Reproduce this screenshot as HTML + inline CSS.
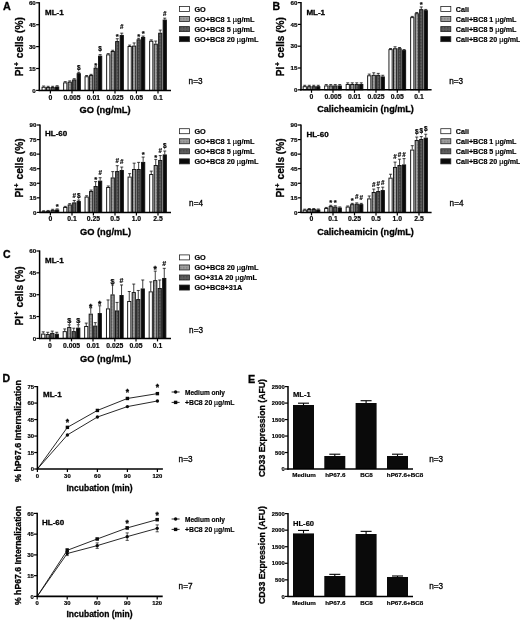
<!DOCTYPE html>
<html><head><meta charset="utf-8"><title>Figure</title>
<style>
html,body{margin:0;padding:0;background:#fff;}
body{width:520px;height:620px;overflow:hidden;font-family:"Liberation Sans",sans-serif;}
svg{display:block;filter:blur(0.4px);}
</style></head><body>
<svg width="520" height="620" viewBox="0 0 520 620" font-family="Liberation Sans, sans-serif">
<style>text[font-weight="bold"]{stroke:#000;stroke-width:0.18px;} text.big{stroke-width:0.3px;}</style>
<defs>
<pattern id="pl" width="1.5" height="1.5" patternUnits="userSpaceOnUse"><rect width="1.5" height="1.5" fill="#a0a0a0"/><rect width="0.75" height="0.75" fill="#7c7c7c"/></pattern>
<pattern id="pd" width="1.5" height="1.5" patternUnits="userSpaceOnUse"><rect width="1.5" height="1.5" fill="#606060"/><rect width="0.75" height="0.75" fill="#404040"/></pattern>
</defs>
<rect width="520" height="620" fill="#ffffff"/>
<line x1="43.65" y1="86.75" x2="43.65" y2="86.02" stroke="#111" stroke-width="0.8"/>
<line x1="42.15" y1="86.02" x2="45.15" y2="86.02" stroke="#111" stroke-width="0.8"/>
<rect x="42.05" y="87.25" width="3.20" height="3.15" fill="#ffffff" stroke="#111" stroke-width="0.95"/>
<line x1="48.15" y1="87.04" x2="48.15" y2="86.31" stroke="#111" stroke-width="0.8"/>
<line x1="46.65" y1="86.31" x2="49.65" y2="86.31" stroke="#111" stroke-width="0.8"/>
<rect x="46.55" y="87.54" width="3.20" height="2.86" fill="url(#pl)" stroke="#111" stroke-width="0.95"/>
<line x1="52.65" y1="87.04" x2="52.65" y2="86.31" stroke="#111" stroke-width="0.8"/>
<line x1="51.15" y1="86.31" x2="54.15" y2="86.31" stroke="#111" stroke-width="0.8"/>
<rect x="51.05" y="87.54" width="3.20" height="2.86" fill="url(#pd)" stroke="#111" stroke-width="0.95"/>
<line x1="57.15" y1="86.46" x2="57.15" y2="85.73" stroke="#111" stroke-width="0.8"/>
<line x1="55.65" y1="85.73" x2="58.65" y2="85.73" stroke="#111" stroke-width="0.8"/>
<rect x="55.55" y="86.96" width="3.20" height="3.44" fill="#0a0a0a" stroke="#111" stroke-width="0.95"/>
<line x1="65.25" y1="82.37" x2="65.25" y2="81.64" stroke="#111" stroke-width="0.8"/>
<line x1="63.75" y1="81.64" x2="66.75" y2="81.64" stroke="#111" stroke-width="0.8"/>
<rect x="63.65" y="82.87" width="3.20" height="7.53" fill="#ffffff" stroke="#111" stroke-width="0.95"/>
<line x1="69.75" y1="81.64" x2="69.75" y2="80.91" stroke="#111" stroke-width="0.8"/>
<line x1="68.25" y1="80.91" x2="71.25" y2="80.91" stroke="#111" stroke-width="0.8"/>
<rect x="68.15" y="82.14" width="3.20" height="8.26" fill="url(#pl)" stroke="#111" stroke-width="0.95"/>
<line x1="74.25" y1="79.45" x2="74.25" y2="78.72" stroke="#111" stroke-width="0.8"/>
<line x1="72.75" y1="78.72" x2="75.75" y2="78.72" stroke="#111" stroke-width="0.8"/>
<rect x="72.65" y="79.95" width="3.20" height="10.45" fill="url(#pd)" stroke="#111" stroke-width="0.95"/>
<line x1="78.75" y1="73.17" x2="78.75" y2="72.30" stroke="#111" stroke-width="0.8"/>
<line x1="77.25" y1="72.30" x2="80.25" y2="72.30" stroke="#111" stroke-width="0.8"/>
<rect x="77.15" y="73.67" width="3.20" height="16.73" fill="#0a0a0a" stroke="#111" stroke-width="0.95"/>
<line x1="86.65" y1="76.24" x2="86.65" y2="75.51" stroke="#111" stroke-width="0.8"/>
<line x1="85.15" y1="75.51" x2="88.15" y2="75.51" stroke="#111" stroke-width="0.8"/>
<rect x="85.05" y="76.74" width="3.20" height="13.66" fill="#ffffff" stroke="#111" stroke-width="0.95"/>
<line x1="91.15" y1="75.07" x2="91.15" y2="74.34" stroke="#111" stroke-width="0.8"/>
<line x1="89.65" y1="74.34" x2="92.65" y2="74.34" stroke="#111" stroke-width="0.8"/>
<rect x="89.55" y="75.57" width="3.20" height="14.83" fill="url(#pl)" stroke="#111" stroke-width="0.95"/>
<line x1="95.65" y1="67.77" x2="95.65" y2="66.89" stroke="#111" stroke-width="0.8"/>
<line x1="94.15" y1="66.89" x2="97.15" y2="66.89" stroke="#111" stroke-width="0.8"/>
<rect x="94.05" y="68.27" width="3.20" height="22.13" fill="url(#pd)" stroke="#111" stroke-width="0.95"/>
<line x1="100.15" y1="55.65" x2="100.15" y2="54.63" stroke="#111" stroke-width="0.8"/>
<line x1="98.65" y1="54.63" x2="101.65" y2="54.63" stroke="#111" stroke-width="0.8"/>
<rect x="98.55" y="56.15" width="3.20" height="34.25" fill="#0a0a0a" stroke="#111" stroke-width="0.95"/>
<line x1="108.25" y1="54.34" x2="108.25" y2="53.61" stroke="#111" stroke-width="0.8"/>
<line x1="106.75" y1="53.61" x2="109.75" y2="53.61" stroke="#111" stroke-width="0.8"/>
<rect x="106.65" y="54.84" width="3.20" height="35.56" fill="#ffffff" stroke="#111" stroke-width="0.95"/>
<line x1="112.75" y1="50.98" x2="112.75" y2="50.25" stroke="#111" stroke-width="0.8"/>
<line x1="111.25" y1="50.25" x2="114.25" y2="50.25" stroke="#111" stroke-width="0.8"/>
<rect x="111.15" y="51.48" width="3.20" height="38.92" fill="url(#pl)" stroke="#111" stroke-width="0.95"/>
<line x1="117.25" y1="41.05" x2="117.25" y2="38.72" stroke="#111" stroke-width="0.8"/>
<line x1="115.75" y1="38.72" x2="118.75" y2="38.72" stroke="#111" stroke-width="0.8"/>
<rect x="115.65" y="41.55" width="3.20" height="48.85" fill="url(#pd)" stroke="#111" stroke-width="0.95"/>
<line x1="121.75" y1="34.92" x2="121.75" y2="33.17" stroke="#111" stroke-width="0.8"/>
<line x1="120.25" y1="33.17" x2="123.25" y2="33.17" stroke="#111" stroke-width="0.8"/>
<rect x="120.15" y="35.42" width="3.20" height="54.98" fill="#0a0a0a" stroke="#111" stroke-width="0.95"/>
<line x1="129.65" y1="46.02" x2="129.65" y2="45.14" stroke="#111" stroke-width="0.8"/>
<line x1="128.15" y1="45.14" x2="131.15" y2="45.14" stroke="#111" stroke-width="0.8"/>
<rect x="128.05" y="46.52" width="3.20" height="43.88" fill="#ffffff" stroke="#111" stroke-width="0.95"/>
<line x1="134.15" y1="45.58" x2="134.15" y2="42.95" stroke="#111" stroke-width="0.8"/>
<line x1="132.65" y1="42.95" x2="135.65" y2="42.95" stroke="#111" stroke-width="0.8"/>
<rect x="132.55" y="46.08" width="3.20" height="44.32" fill="url(#pl)" stroke="#111" stroke-width="0.95"/>
<line x1="138.65" y1="39.30" x2="138.65" y2="38.28" stroke="#111" stroke-width="0.8"/>
<line x1="137.15" y1="38.28" x2="140.15" y2="38.28" stroke="#111" stroke-width="0.8"/>
<rect x="137.05" y="39.80" width="3.20" height="50.60" fill="url(#pd)" stroke="#111" stroke-width="0.95"/>
<line x1="143.15" y1="36.96" x2="143.15" y2="36.09" stroke="#111" stroke-width="0.8"/>
<line x1="141.65" y1="36.09" x2="144.65" y2="36.09" stroke="#111" stroke-width="0.8"/>
<rect x="141.55" y="37.46" width="3.20" height="52.94" fill="#0a0a0a" stroke="#111" stroke-width="0.95"/>
<line x1="151.25" y1="40.76" x2="151.25" y2="39.88" stroke="#111" stroke-width="0.8"/>
<line x1="149.75" y1="39.88" x2="152.75" y2="39.88" stroke="#111" stroke-width="0.8"/>
<rect x="149.65" y="41.26" width="3.20" height="49.14" fill="#ffffff" stroke="#111" stroke-width="0.95"/>
<line x1="155.75" y1="43.68" x2="155.75" y2="41.05" stroke="#111" stroke-width="0.8"/>
<line x1="154.25" y1="41.05" x2="157.25" y2="41.05" stroke="#111" stroke-width="0.8"/>
<rect x="154.15" y="44.18" width="3.20" height="46.22" fill="url(#pl)" stroke="#111" stroke-width="0.95"/>
<line x1="160.25" y1="32.73" x2="160.25" y2="30.10" stroke="#111" stroke-width="0.8"/>
<line x1="158.75" y1="30.10" x2="161.75" y2="30.10" stroke="#111" stroke-width="0.8"/>
<rect x="158.65" y="33.23" width="3.20" height="57.17" fill="url(#pd)" stroke="#111" stroke-width="0.95"/>
<line x1="164.75" y1="19.59" x2="164.75" y2="18.13" stroke="#111" stroke-width="0.8"/>
<line x1="163.25" y1="18.13" x2="166.25" y2="18.13" stroke="#111" stroke-width="0.8"/>
<rect x="163.15" y="20.09" width="3.20" height="70.31" fill="#0a0a0a" stroke="#111" stroke-width="0.95"/>
<line x1="39.30" y1="2.20" x2="39.30" y2="91.10" stroke="#000" stroke-width="1.5"/>
<line x1="38.60" y1="90.40" x2="171.00" y2="90.40" stroke="#000" stroke-width="1.5"/>
<line x1="36.10" y1="90.40" x2="39.30" y2="90.40" stroke="#000" stroke-width="1.2"/>
<text x="35.80" y="92.65" font-size="6.2" font-weight="bold" text-anchor="end" fill="#000">0</text>
<line x1="36.10" y1="68.50" x2="39.30" y2="68.50" stroke="#000" stroke-width="1.2"/>
<text x="35.80" y="70.75" font-size="6.2" font-weight="bold" text-anchor="end" fill="#000">15</text>
<line x1="36.10" y1="46.60" x2="39.30" y2="46.60" stroke="#000" stroke-width="1.2"/>
<text x="35.80" y="48.85" font-size="6.2" font-weight="bold" text-anchor="end" fill="#000">30</text>
<line x1="36.10" y1="24.70" x2="39.30" y2="24.70" stroke="#000" stroke-width="1.2"/>
<text x="35.80" y="26.95" font-size="6.2" font-weight="bold" text-anchor="end" fill="#000">45</text>
<line x1="36.10" y1="2.80" x2="39.30" y2="2.80" stroke="#000" stroke-width="1.2"/>
<text x="35.80" y="5.05" font-size="6.2" font-weight="bold" text-anchor="end" fill="#000">60</text>
<line x1="50.40" y1="90.40" x2="50.40" y2="93.40" stroke="#000" stroke-width="1.2"/>
<text x="50.40" y="99.70" font-size="6.8" font-weight="bold" text-anchor="middle" fill="#000">0</text>
<line x1="72.00" y1="90.40" x2="72.00" y2="93.40" stroke="#000" stroke-width="1.2"/>
<text x="72.00" y="99.70" font-size="6.8" font-weight="bold" text-anchor="middle" fill="#000">0.005</text>
<line x1="93.40" y1="90.40" x2="93.40" y2="93.40" stroke="#000" stroke-width="1.2"/>
<text x="93.40" y="99.70" font-size="6.8" font-weight="bold" text-anchor="middle" fill="#000">0.01</text>
<line x1="115.00" y1="90.40" x2="115.00" y2="93.40" stroke="#000" stroke-width="1.2"/>
<text x="115.00" y="99.70" font-size="6.8" font-weight="bold" text-anchor="middle" fill="#000">0.025</text>
<line x1="136.40" y1="90.40" x2="136.40" y2="93.40" stroke="#000" stroke-width="1.2"/>
<text x="136.40" y="99.70" font-size="6.8" font-weight="bold" text-anchor="middle" fill="#000">0.05</text>
<line x1="158.00" y1="90.40" x2="158.00" y2="93.40" stroke="#000" stroke-width="1.2"/>
<text x="158.00" y="99.70" font-size="6.8" font-weight="bold" text-anchor="middle" fill="#000">0.1</text>
<text class="big" x="105.00" y="113.00" font-size="9.3" font-weight="bold" text-anchor="middle" fill="#000">GO (ng/mL)</text>
<text class="big" x="22.7" y="46.8" font-size="10.1" font-weight="bold" text-anchor="middle" fill="#000" transform="rotate(-90 22.7 46.8)">PI<tspan font-size="6.5" dy="-4" dx="0.7">+</tspan><tspan dy="4" dx="1.3"> cells (%)</tspan></text>
<text class="big" x="45.00" y="14.70" font-size="8.0" font-weight="bold" text-anchor="start" fill="#000">ML-1</text>
<text x="78.75" y="70.21" font-size="6.5" font-weight="bold" text-anchor="middle" fill="#000">$</text>
<text x="95.65" y="67.86" font-size="7.6" font-weight="bold" text-anchor="middle" fill="#000">*</text>
<text x="100.15" y="50.81" font-size="6.5" font-weight="bold" text-anchor="middle" fill="#000">$</text>
<text x="117.25" y="38.66" font-size="7.6" font-weight="bold" text-anchor="middle" fill="#000">*</text>
<text x="121.75" y="29.27" font-size="6.3" font-weight="bold" text-anchor="middle" fill="#000">#</text>
<text x="138.65" y="39.26" font-size="7.6" font-weight="bold" text-anchor="middle" fill="#000">*</text>
<text x="143.15" y="36.26" font-size="7.6" font-weight="bold" text-anchor="middle" fill="#000">*</text>
<text x="164.75" y="16.27" font-size="6.3" font-weight="bold" text-anchor="middle" fill="#000">#</text>
<rect x="179.40" y="6.50" width="10.00" height="5.00" fill="#ffffff" stroke="#222" stroke-width="0.8"/>
<text x="194.40" y="11.50" font-size="7.3" font-weight="bold" fill="#000">GO</text>
<rect x="179.40" y="16.55" width="10.00" height="5.00" fill="url(#pl)" stroke="#222" stroke-width="0.8"/>
<text x="194.40" y="21.55" font-size="7.3" font-weight="bold" fill="#000">GO+BC8 1 <tspan font-weight="normal">&#181;</tspan>g/mL</text>
<rect x="179.40" y="26.60" width="10.00" height="5.00" fill="url(#pd)" stroke="#222" stroke-width="0.8"/>
<text x="194.40" y="31.60" font-size="7.3" font-weight="bold" fill="#000">GO+BC8 5 <tspan font-weight="normal">&#181;</tspan>g/mL</text>
<rect x="179.40" y="36.65" width="10.00" height="5.00" fill="#0a0a0a" stroke="#222" stroke-width="0.8"/>
<text x="194.40" y="41.65" font-size="7.3" font-weight="bold" fill="#000">GO+BC8 20 <tspan font-weight="normal">&#181;</tspan>g/mL</text>
<text class="big" x="188.60" y="84.20" font-size="8.2"  text-anchor="start" fill="#000" stroke="#000" stroke-width="0.15">n=3</text>
<line x1="43.65" y1="211.14" x2="43.65" y2="210.75" stroke="#111" stroke-width="0.8"/>
<line x1="42.15" y1="210.75" x2="45.15" y2="210.75" stroke="#111" stroke-width="0.8"/>
<rect x="42.05" y="211.64" width="3.20" height="0.76" fill="#ffffff" stroke="#111" stroke-width="0.95"/>
<line x1="48.15" y1="210.85" x2="48.15" y2="210.46" stroke="#111" stroke-width="0.8"/>
<line x1="46.65" y1="210.46" x2="49.65" y2="210.46" stroke="#111" stroke-width="0.8"/>
<rect x="46.55" y="211.35" width="3.20" height="1.05" fill="url(#pl)" stroke="#111" stroke-width="0.95"/>
<line x1="52.65" y1="209.88" x2="52.65" y2="209.29" stroke="#111" stroke-width="0.8"/>
<line x1="51.15" y1="209.29" x2="54.15" y2="209.29" stroke="#111" stroke-width="0.8"/>
<rect x="51.05" y="210.38" width="3.20" height="2.02" fill="url(#pd)" stroke="#111" stroke-width="0.95"/>
<line x1="57.15" y1="209.49" x2="57.15" y2="208.90" stroke="#111" stroke-width="0.8"/>
<line x1="55.65" y1="208.90" x2="58.65" y2="208.90" stroke="#111" stroke-width="0.8"/>
<rect x="55.55" y="209.99" width="3.20" height="2.41" fill="#0a0a0a" stroke="#111" stroke-width="0.95"/>
<line x1="65.25" y1="206.96" x2="65.25" y2="206.38" stroke="#111" stroke-width="0.8"/>
<line x1="63.75" y1="206.38" x2="66.75" y2="206.38" stroke="#111" stroke-width="0.8"/>
<rect x="63.65" y="207.46" width="3.20" height="4.94" fill="#ffffff" stroke="#111" stroke-width="0.95"/>
<line x1="69.75" y1="204.44" x2="69.75" y2="203.66" stroke="#111" stroke-width="0.8"/>
<line x1="68.25" y1="203.66" x2="71.25" y2="203.66" stroke="#111" stroke-width="0.8"/>
<rect x="68.15" y="204.94" width="3.20" height="7.46" fill="url(#pl)" stroke="#111" stroke-width="0.95"/>
<line x1="74.25" y1="202.40" x2="74.25" y2="200.46" stroke="#111" stroke-width="0.8"/>
<line x1="72.75" y1="200.46" x2="75.75" y2="200.46" stroke="#111" stroke-width="0.8"/>
<rect x="72.65" y="202.90" width="3.20" height="9.50" fill="url(#pd)" stroke="#111" stroke-width="0.95"/>
<line x1="78.75" y1="201.04" x2="78.75" y2="200.07" stroke="#111" stroke-width="0.8"/>
<line x1="77.25" y1="200.07" x2="80.25" y2="200.07" stroke="#111" stroke-width="0.8"/>
<rect x="77.15" y="201.54" width="3.20" height="10.86" fill="#0a0a0a" stroke="#111" stroke-width="0.95"/>
<line x1="86.65" y1="196.57" x2="86.65" y2="195.79" stroke="#111" stroke-width="0.8"/>
<line x1="85.15" y1="195.79" x2="88.15" y2="195.79" stroke="#111" stroke-width="0.8"/>
<rect x="85.05" y="197.07" width="3.20" height="15.33" fill="#ffffff" stroke="#111" stroke-width="0.95"/>
<line x1="91.15" y1="191.04" x2="91.15" y2="190.06" stroke="#111" stroke-width="0.8"/>
<line x1="89.65" y1="190.06" x2="92.65" y2="190.06" stroke="#111" stroke-width="0.8"/>
<rect x="89.55" y="191.54" width="3.20" height="20.86" fill="url(#pl)" stroke="#111" stroke-width="0.95"/>
<line x1="95.65" y1="185.99" x2="95.65" y2="181.62" stroke="#111" stroke-width="0.8"/>
<line x1="94.15" y1="181.62" x2="97.15" y2="181.62" stroke="#111" stroke-width="0.8"/>
<rect x="94.05" y="186.49" width="3.20" height="25.91" fill="url(#pd)" stroke="#111" stroke-width="0.95"/>
<line x1="100.15" y1="180.64" x2="100.15" y2="177.73" stroke="#111" stroke-width="0.8"/>
<line x1="98.65" y1="177.73" x2="101.65" y2="177.73" stroke="#111" stroke-width="0.8"/>
<rect x="98.55" y="181.14" width="3.20" height="31.26" fill="#0a0a0a" stroke="#111" stroke-width="0.95"/>
<line x1="108.25" y1="186.96" x2="108.25" y2="185.99" stroke="#111" stroke-width="0.8"/>
<line x1="106.75" y1="185.99" x2="109.75" y2="185.99" stroke="#111" stroke-width="0.8"/>
<rect x="106.65" y="187.46" width="3.20" height="24.94" fill="#ffffff" stroke="#111" stroke-width="0.95"/>
<line x1="112.75" y1="177.44" x2="112.75" y2="171.61" stroke="#111" stroke-width="0.8"/>
<line x1="111.25" y1="171.61" x2="114.25" y2="171.61" stroke="#111" stroke-width="0.8"/>
<rect x="111.15" y="177.94" width="3.20" height="34.46" fill="url(#pl)" stroke="#111" stroke-width="0.95"/>
<line x1="117.25" y1="171.03" x2="117.25" y2="165.69" stroke="#111" stroke-width="0.8"/>
<line x1="115.75" y1="165.69" x2="118.75" y2="165.69" stroke="#111" stroke-width="0.8"/>
<rect x="115.65" y="171.53" width="3.20" height="40.87" fill="url(#pd)" stroke="#111" stroke-width="0.95"/>
<line x1="121.75" y1="169.96" x2="121.75" y2="167.05" stroke="#111" stroke-width="0.8"/>
<line x1="120.25" y1="167.05" x2="123.25" y2="167.05" stroke="#111" stroke-width="0.8"/>
<rect x="120.15" y="170.46" width="3.20" height="41.94" fill="#0a0a0a" stroke="#111" stroke-width="0.95"/>
<line x1="129.65" y1="176.57" x2="129.65" y2="173.65" stroke="#111" stroke-width="0.8"/>
<line x1="128.15" y1="173.65" x2="131.15" y2="173.65" stroke="#111" stroke-width="0.8"/>
<rect x="128.05" y="177.07" width="3.20" height="35.33" fill="#ffffff" stroke="#111" stroke-width="0.95"/>
<line x1="134.15" y1="168.99" x2="134.15" y2="163.16" stroke="#111" stroke-width="0.8"/>
<line x1="132.65" y1="163.16" x2="135.65" y2="163.16" stroke="#111" stroke-width="0.8"/>
<rect x="132.55" y="169.49" width="3.20" height="42.91" fill="url(#pl)" stroke="#111" stroke-width="0.95"/>
<line x1="138.65" y1="168.99" x2="138.65" y2="162.39" stroke="#111" stroke-width="0.8"/>
<line x1="137.15" y1="162.39" x2="140.15" y2="162.39" stroke="#111" stroke-width="0.8"/>
<rect x="137.05" y="169.49" width="3.20" height="42.91" fill="url(#pd)" stroke="#111" stroke-width="0.95"/>
<line x1="143.15" y1="161.90" x2="143.15" y2="157.05" stroke="#111" stroke-width="0.8"/>
<line x1="141.65" y1="157.05" x2="144.65" y2="157.05" stroke="#111" stroke-width="0.8"/>
<rect x="141.55" y="162.40" width="3.20" height="50.00" fill="#0a0a0a" stroke="#111" stroke-width="0.95"/>
<line x1="151.25" y1="174.04" x2="151.25" y2="171.13" stroke="#111" stroke-width="0.8"/>
<line x1="149.75" y1="171.13" x2="152.75" y2="171.13" stroke="#111" stroke-width="0.8"/>
<rect x="149.65" y="174.54" width="3.20" height="37.86" fill="#ffffff" stroke="#111" stroke-width="0.95"/>
<line x1="155.75" y1="165.01" x2="155.75" y2="159.38" stroke="#111" stroke-width="0.8"/>
<line x1="154.25" y1="159.38" x2="157.25" y2="159.38" stroke="#111" stroke-width="0.8"/>
<rect x="154.15" y="165.51" width="3.20" height="46.89" fill="url(#pl)" stroke="#111" stroke-width="0.95"/>
<line x1="160.25" y1="159.96" x2="160.25" y2="155.59" stroke="#111" stroke-width="0.8"/>
<line x1="158.75" y1="155.59" x2="161.75" y2="155.59" stroke="#111" stroke-width="0.8"/>
<rect x="158.65" y="160.46" width="3.20" height="51.94" fill="url(#pd)" stroke="#111" stroke-width="0.95"/>
<line x1="164.75" y1="154.42" x2="164.75" y2="151.03" stroke="#111" stroke-width="0.8"/>
<line x1="163.25" y1="151.03" x2="166.25" y2="151.03" stroke="#111" stroke-width="0.8"/>
<rect x="163.15" y="154.92" width="3.20" height="57.48" fill="#0a0a0a" stroke="#111" stroke-width="0.95"/>
<line x1="40.00" y1="124.40" x2="40.00" y2="213.10" stroke="#000" stroke-width="1.5"/>
<line x1="39.30" y1="212.40" x2="171.00" y2="212.40" stroke="#000" stroke-width="1.5"/>
<line x1="36.80" y1="212.40" x2="40.00" y2="212.40" stroke="#000" stroke-width="1.2"/>
<text x="36.50" y="214.65" font-size="6.2" font-weight="bold" text-anchor="end" fill="#000">0</text>
<line x1="36.80" y1="197.83" x2="40.00" y2="197.83" stroke="#000" stroke-width="1.2"/>
<text x="36.50" y="200.08" font-size="6.2" font-weight="bold" text-anchor="end" fill="#000">15</text>
<line x1="36.80" y1="183.27" x2="40.00" y2="183.27" stroke="#000" stroke-width="1.2"/>
<text x="36.50" y="185.52" font-size="6.2" font-weight="bold" text-anchor="end" fill="#000">30</text>
<line x1="36.80" y1="168.70" x2="40.00" y2="168.70" stroke="#000" stroke-width="1.2"/>
<text x="36.50" y="170.95" font-size="6.2" font-weight="bold" text-anchor="end" fill="#000">45</text>
<line x1="36.80" y1="154.13" x2="40.00" y2="154.13" stroke="#000" stroke-width="1.2"/>
<text x="36.50" y="156.38" font-size="6.2" font-weight="bold" text-anchor="end" fill="#000">60</text>
<line x1="36.80" y1="139.57" x2="40.00" y2="139.57" stroke="#000" stroke-width="1.2"/>
<text x="36.50" y="141.82" font-size="6.2" font-weight="bold" text-anchor="end" fill="#000">75</text>
<line x1="36.80" y1="125.00" x2="40.00" y2="125.00" stroke="#000" stroke-width="1.2"/>
<text x="36.50" y="127.25" font-size="6.2" font-weight="bold" text-anchor="end" fill="#000">90</text>
<line x1="50.40" y1="212.40" x2="50.40" y2="215.40" stroke="#000" stroke-width="1.2"/>
<text x="50.40" y="221.40" font-size="6.8" font-weight="bold" text-anchor="middle" fill="#000">0</text>
<line x1="72.00" y1="212.40" x2="72.00" y2="215.40" stroke="#000" stroke-width="1.2"/>
<text x="72.00" y="221.40" font-size="6.8" font-weight="bold" text-anchor="middle" fill="#000">0.1</text>
<line x1="93.40" y1="212.40" x2="93.40" y2="215.40" stroke="#000" stroke-width="1.2"/>
<text x="93.40" y="221.40" font-size="6.8" font-weight="bold" text-anchor="middle" fill="#000">0.25</text>
<line x1="115.00" y1="212.40" x2="115.00" y2="215.40" stroke="#000" stroke-width="1.2"/>
<text x="115.00" y="221.40" font-size="6.8" font-weight="bold" text-anchor="middle" fill="#000">0.5</text>
<line x1="136.40" y1="212.40" x2="136.40" y2="215.40" stroke="#000" stroke-width="1.2"/>
<text x="136.40" y="221.40" font-size="6.8" font-weight="bold" text-anchor="middle" fill="#000">1.0</text>
<line x1="158.00" y1="212.40" x2="158.00" y2="215.40" stroke="#000" stroke-width="1.2"/>
<text x="158.00" y="221.40" font-size="6.8" font-weight="bold" text-anchor="middle" fill="#000">2.5</text>
<text class="big" x="105.50" y="235.30" font-size="9.3" font-weight="bold" text-anchor="middle" fill="#000">GO (ng/mL)</text>
<text class="big" x="23.4" y="168" font-size="10.1" font-weight="bold" text-anchor="middle" fill="#000" transform="rotate(-90 23.4 168)">PI<tspan font-size="6.5" dy="-4" dx="0.7">+</tspan><tspan dy="4" dx="1.3"> cells (%)</tspan></text>
<text class="big" x="45.00" y="136.40" font-size="8.0" font-weight="bold" text-anchor="start" fill="#000">HL-60</text>
<text x="57.15" y="209.26" font-size="7.6" font-weight="bold" text-anchor="middle" fill="#000">*</text>
<text x="74.25" y="198.27" font-size="6.3" font-weight="bold" text-anchor="middle" fill="#000">#</text>
<text x="78.75" y="197.81" font-size="6.5" font-weight="bold" text-anchor="middle" fill="#000">$</text>
<text x="95.65" y="182.26" font-size="7.6" font-weight="bold" text-anchor="middle" fill="#000">*</text>
<text x="100.15" y="175.27" font-size="6.3" font-weight="bold" text-anchor="middle" fill="#000">#</text>
<text x="117.25" y="163.27" font-size="6.3" font-weight="bold" text-anchor="middle" fill="#000">#</text>
<text x="121.75" y="163.87" font-size="6.3" font-weight="bold" text-anchor="middle" fill="#000">#</text>
<text x="143.15" y="157.26" font-size="7.6" font-weight="bold" text-anchor="middle" fill="#000">*</text>
<text x="155.75" y="159.86" font-size="7.6" font-weight="bold" text-anchor="middle" fill="#000">*</text>
<text x="160.25" y="153.27" font-size="6.3" font-weight="bold" text-anchor="middle" fill="#000">#</text>
<text x="164.75" y="148.21" font-size="6.5" font-weight="bold" text-anchor="middle" fill="#000">$</text>
<rect x="179.40" y="128.70" width="10.00" height="5.00" fill="#ffffff" stroke="#222" stroke-width="0.8"/>
<text x="194.40" y="133.70" font-size="7.3" font-weight="bold" fill="#000">GO</text>
<rect x="179.40" y="138.75" width="10.00" height="5.00" fill="url(#pl)" stroke="#222" stroke-width="0.8"/>
<text x="194.40" y="143.75" font-size="7.3" font-weight="bold" fill="#000">GO+BC8 1 <tspan font-weight="normal">&#181;</tspan>g/mL</text>
<rect x="179.40" y="148.80" width="10.00" height="5.00" fill="url(#pd)" stroke="#222" stroke-width="0.8"/>
<text x="194.40" y="153.80" font-size="7.3" font-weight="bold" fill="#000">GO+BC8 5 <tspan font-weight="normal">&#181;</tspan>g/mL</text>
<rect x="179.40" y="158.85" width="10.00" height="5.00" fill="#0a0a0a" stroke="#222" stroke-width="0.8"/>
<text x="194.40" y="163.85" font-size="7.3" font-weight="bold" fill="#000">GO+BC8 20 <tspan font-weight="normal">&#181;</tspan>g/mL</text>
<text class="big" x="189.10" y="205.70" font-size="8.2"  text-anchor="start" fill="#000" stroke="#000" stroke-width="0.15">n=4</text>
<line x1="304.75" y1="86.17" x2="304.75" y2="85.29" stroke="#111" stroke-width="0.8"/>
<line x1="303.25" y1="85.29" x2="306.25" y2="85.29" stroke="#111" stroke-width="0.8"/>
<rect x="303.15" y="86.67" width="3.20" height="3.13" fill="#ffffff" stroke="#111" stroke-width="0.95"/>
<line x1="309.25" y1="86.17" x2="309.25" y2="85.29" stroke="#111" stroke-width="0.8"/>
<line x1="307.75" y1="85.29" x2="310.75" y2="85.29" stroke="#111" stroke-width="0.8"/>
<rect x="307.65" y="86.67" width="3.20" height="3.13" fill="url(#pl)" stroke="#111" stroke-width="0.95"/>
<line x1="313.75" y1="86.17" x2="313.75" y2="85.29" stroke="#111" stroke-width="0.8"/>
<line x1="312.25" y1="85.29" x2="315.25" y2="85.29" stroke="#111" stroke-width="0.8"/>
<rect x="312.15" y="86.67" width="3.20" height="3.13" fill="url(#pd)" stroke="#111" stroke-width="0.95"/>
<line x1="318.25" y1="86.17" x2="318.25" y2="85.29" stroke="#111" stroke-width="0.8"/>
<line x1="316.75" y1="85.29" x2="319.75" y2="85.29" stroke="#111" stroke-width="0.8"/>
<rect x="316.65" y="86.67" width="3.20" height="3.13" fill="#0a0a0a" stroke="#111" stroke-width="0.95"/>
<line x1="326.25" y1="85.44" x2="326.25" y2="84.57" stroke="#111" stroke-width="0.8"/>
<line x1="324.75" y1="84.57" x2="327.75" y2="84.57" stroke="#111" stroke-width="0.8"/>
<rect x="324.65" y="85.94" width="3.20" height="3.86" fill="#ffffff" stroke="#111" stroke-width="0.95"/>
<line x1="330.75" y1="85.44" x2="330.75" y2="84.57" stroke="#111" stroke-width="0.8"/>
<line x1="329.25" y1="84.57" x2="332.25" y2="84.57" stroke="#111" stroke-width="0.8"/>
<rect x="329.15" y="85.94" width="3.20" height="3.86" fill="url(#pl)" stroke="#111" stroke-width="0.95"/>
<line x1="335.25" y1="85.44" x2="335.25" y2="84.57" stroke="#111" stroke-width="0.8"/>
<line x1="333.75" y1="84.57" x2="336.75" y2="84.57" stroke="#111" stroke-width="0.8"/>
<rect x="333.65" y="85.94" width="3.20" height="3.86" fill="url(#pd)" stroke="#111" stroke-width="0.95"/>
<line x1="339.75" y1="85.44" x2="339.75" y2="84.57" stroke="#111" stroke-width="0.8"/>
<line x1="338.25" y1="84.57" x2="341.25" y2="84.57" stroke="#111" stroke-width="0.8"/>
<rect x="338.15" y="85.94" width="3.20" height="3.86" fill="#0a0a0a" stroke="#111" stroke-width="0.95"/>
<line x1="347.75" y1="83.99" x2="347.75" y2="82.82" stroke="#111" stroke-width="0.8"/>
<line x1="346.25" y1="82.82" x2="349.25" y2="82.82" stroke="#111" stroke-width="0.8"/>
<rect x="346.15" y="84.49" width="3.20" height="5.31" fill="#ffffff" stroke="#111" stroke-width="0.95"/>
<line x1="352.25" y1="83.99" x2="352.25" y2="82.82" stroke="#111" stroke-width="0.8"/>
<line x1="350.75" y1="82.82" x2="353.75" y2="82.82" stroke="#111" stroke-width="0.8"/>
<rect x="350.65" y="84.49" width="3.20" height="5.31" fill="url(#pl)" stroke="#111" stroke-width="0.95"/>
<line x1="356.75" y1="83.99" x2="356.75" y2="82.82" stroke="#111" stroke-width="0.8"/>
<line x1="355.25" y1="82.82" x2="358.25" y2="82.82" stroke="#111" stroke-width="0.8"/>
<rect x="355.15" y="84.49" width="3.20" height="5.31" fill="url(#pd)" stroke="#111" stroke-width="0.95"/>
<line x1="361.25" y1="83.99" x2="361.25" y2="82.82" stroke="#111" stroke-width="0.8"/>
<line x1="359.75" y1="82.82" x2="362.75" y2="82.82" stroke="#111" stroke-width="0.8"/>
<rect x="359.65" y="84.49" width="3.20" height="5.31" fill="#0a0a0a" stroke="#111" stroke-width="0.95"/>
<line x1="369.25" y1="75.27" x2="369.25" y2="74.10" stroke="#111" stroke-width="0.8"/>
<line x1="367.75" y1="74.10" x2="370.75" y2="74.10" stroke="#111" stroke-width="0.8"/>
<rect x="367.65" y="75.77" width="3.20" height="14.03" fill="#ffffff" stroke="#111" stroke-width="0.95"/>
<line x1="373.75" y1="74.83" x2="373.75" y2="72.80" stroke="#111" stroke-width="0.8"/>
<line x1="372.25" y1="72.80" x2="375.25" y2="72.80" stroke="#111" stroke-width="0.8"/>
<rect x="372.15" y="75.33" width="3.20" height="14.47" fill="url(#pl)" stroke="#111" stroke-width="0.95"/>
<line x1="378.25" y1="74.83" x2="378.25" y2="73.38" stroke="#111" stroke-width="0.8"/>
<line x1="376.75" y1="73.38" x2="379.75" y2="73.38" stroke="#111" stroke-width="0.8"/>
<rect x="376.65" y="75.33" width="3.20" height="14.47" fill="url(#pd)" stroke="#111" stroke-width="0.95"/>
<line x1="382.75" y1="76.43" x2="382.75" y2="75.27" stroke="#111" stroke-width="0.8"/>
<line x1="381.25" y1="75.27" x2="384.25" y2="75.27" stroke="#111" stroke-width="0.8"/>
<rect x="381.15" y="76.93" width="3.20" height="12.87" fill="#0a0a0a" stroke="#111" stroke-width="0.95"/>
<line x1="390.55" y1="49.11" x2="390.55" y2="48.53" stroke="#111" stroke-width="0.8"/>
<line x1="389.05" y1="48.53" x2="392.05" y2="48.53" stroke="#111" stroke-width="0.8"/>
<rect x="388.95" y="49.61" width="3.20" height="40.19" fill="#ffffff" stroke="#111" stroke-width="0.95"/>
<line x1="395.05" y1="48.23" x2="395.05" y2="46.78" stroke="#111" stroke-width="0.8"/>
<line x1="393.55" y1="46.78" x2="396.55" y2="46.78" stroke="#111" stroke-width="0.8"/>
<rect x="393.45" y="48.73" width="3.20" height="41.07" fill="url(#pl)" stroke="#111" stroke-width="0.95"/>
<line x1="399.55" y1="48.23" x2="399.55" y2="47.51" stroke="#111" stroke-width="0.8"/>
<line x1="398.05" y1="47.51" x2="401.05" y2="47.51" stroke="#111" stroke-width="0.8"/>
<rect x="397.95" y="48.73" width="3.20" height="41.07" fill="url(#pd)" stroke="#111" stroke-width="0.95"/>
<line x1="404.05" y1="50.12" x2="404.05" y2="49.54" stroke="#111" stroke-width="0.8"/>
<line x1="402.55" y1="49.54" x2="405.55" y2="49.54" stroke="#111" stroke-width="0.8"/>
<rect x="402.45" y="50.62" width="3.20" height="39.18" fill="#0a0a0a" stroke="#111" stroke-width="0.95"/>
<line x1="412.25" y1="17.13" x2="412.25" y2="16.41" stroke="#111" stroke-width="0.8"/>
<line x1="410.75" y1="16.41" x2="413.75" y2="16.41" stroke="#111" stroke-width="0.8"/>
<rect x="410.65" y="17.63" width="3.20" height="72.17" fill="#ffffff" stroke="#111" stroke-width="0.95"/>
<line x1="416.75" y1="13.21" x2="416.75" y2="12.48" stroke="#111" stroke-width="0.8"/>
<line x1="415.25" y1="12.48" x2="418.25" y2="12.48" stroke="#111" stroke-width="0.8"/>
<rect x="415.15" y="13.71" width="3.20" height="76.09" fill="url(#pl)" stroke="#111" stroke-width="0.95"/>
<line x1="421.25" y1="9.14" x2="421.25" y2="6.96" stroke="#111" stroke-width="0.8"/>
<line x1="419.75" y1="6.96" x2="422.75" y2="6.96" stroke="#111" stroke-width="0.8"/>
<rect x="419.65" y="9.64" width="3.20" height="80.16" fill="url(#pd)" stroke="#111" stroke-width="0.95"/>
<line x1="425.75" y1="10.16" x2="425.75" y2="9.43" stroke="#111" stroke-width="0.8"/>
<line x1="424.25" y1="9.43" x2="427.25" y2="9.43" stroke="#111" stroke-width="0.8"/>
<rect x="424.15" y="10.66" width="3.20" height="79.14" fill="#0a0a0a" stroke="#111" stroke-width="0.95"/>
<line x1="301.00" y1="2.00" x2="301.00" y2="90.50" stroke="#000" stroke-width="1.5"/>
<line x1="300.30" y1="89.80" x2="431.60" y2="89.80" stroke="#000" stroke-width="1.5"/>
<line x1="297.80" y1="89.80" x2="301.00" y2="89.80" stroke="#000" stroke-width="1.2"/>
<text x="297.50" y="92.05" font-size="6.2" font-weight="bold" text-anchor="end" fill="#000">0</text>
<line x1="297.80" y1="68.00" x2="301.00" y2="68.00" stroke="#000" stroke-width="1.2"/>
<text x="297.50" y="70.25" font-size="6.2" font-weight="bold" text-anchor="end" fill="#000">15</text>
<line x1="297.80" y1="46.20" x2="301.00" y2="46.20" stroke="#000" stroke-width="1.2"/>
<text x="297.50" y="48.45" font-size="6.2" font-weight="bold" text-anchor="end" fill="#000">30</text>
<line x1="297.80" y1="24.40" x2="301.00" y2="24.40" stroke="#000" stroke-width="1.2"/>
<text x="297.50" y="26.65" font-size="6.2" font-weight="bold" text-anchor="end" fill="#000">45</text>
<line x1="297.80" y1="2.60" x2="301.00" y2="2.60" stroke="#000" stroke-width="1.2"/>
<text x="297.50" y="4.85" font-size="6.2" font-weight="bold" text-anchor="end" fill="#000">60</text>
<line x1="311.50" y1="89.80" x2="311.50" y2="92.80" stroke="#000" stroke-width="1.2"/>
<text x="311.50" y="99.20" font-size="6.8" font-weight="bold" text-anchor="middle" fill="#000">0</text>
<line x1="333.00" y1="89.80" x2="333.00" y2="92.80" stroke="#000" stroke-width="1.2"/>
<text x="333.00" y="99.20" font-size="6.8" font-weight="bold" text-anchor="middle" fill="#000">0.005</text>
<line x1="354.50" y1="89.80" x2="354.50" y2="92.80" stroke="#000" stroke-width="1.2"/>
<text x="354.50" y="99.20" font-size="6.8" font-weight="bold" text-anchor="middle" fill="#000">0.01</text>
<line x1="376.00" y1="89.80" x2="376.00" y2="92.80" stroke="#000" stroke-width="1.2"/>
<text x="376.00" y="99.20" font-size="6.8" font-weight="bold" text-anchor="middle" fill="#000">0.025</text>
<line x1="397.30" y1="89.80" x2="397.30" y2="92.80" stroke="#000" stroke-width="1.2"/>
<text x="397.30" y="99.20" font-size="6.8" font-weight="bold" text-anchor="middle" fill="#000">0.05</text>
<line x1="419.00" y1="89.80" x2="419.00" y2="92.80" stroke="#000" stroke-width="1.2"/>
<text x="419.00" y="99.20" font-size="6.8" font-weight="bold" text-anchor="middle" fill="#000">0.1</text>
<text class="big" x="365.50" y="112.30" font-size="9.05" font-weight="bold" text-anchor="middle" fill="#000">Calicheamicin (ng/mL)</text>
<text class="big" x="284.4" y="46.6" font-size="10.1" font-weight="bold" text-anchor="middle" fill="#000" transform="rotate(-90 284.4 46.6)">PI<tspan font-size="6.5" dy="-4" dx="0.7">+</tspan><tspan dy="4" dx="1.3"> cells (%)</tspan></text>
<text class="big" x="306.40" y="15.20" font-size="8.0" font-weight="bold" text-anchor="start" fill="#000">ML-1</text>
<text x="421.25" y="7.46" font-size="7.6" font-weight="bold" text-anchor="middle" fill="#000">*</text>
<rect x="440.80" y="6.50" width="10.00" height="5.00" fill="#ffffff" stroke="#222" stroke-width="0.8"/>
<text x="455.80" y="11.50" font-size="7.15" font-weight="bold" fill="#000">Cali</text>
<rect x="440.80" y="16.55" width="10.00" height="5.00" fill="url(#pl)" stroke="#222" stroke-width="0.8"/>
<text x="455.80" y="21.55" font-size="7.15" font-weight="bold" fill="#000">Cali+BC8 1 <tspan font-weight="normal">&#181;</tspan>g/mL</text>
<rect x="440.80" y="26.60" width="10.00" height="5.00" fill="url(#pd)" stroke="#222" stroke-width="0.8"/>
<text x="455.80" y="31.60" font-size="7.15" font-weight="bold" fill="#000">Cali+BC8 5 <tspan font-weight="normal">&#181;</tspan>g/mL</text>
<rect x="440.80" y="36.65" width="10.00" height="5.00" fill="#0a0a0a" stroke="#222" stroke-width="0.8"/>
<text x="455.80" y="41.65" font-size="7.15" font-weight="bold" fill="#000">Cali+BC8 20 <tspan font-weight="normal">&#181;</tspan>g/mL</text>
<text class="big" x="449.20" y="84.20" font-size="8.2"  text-anchor="start" fill="#000" stroke="#000" stroke-width="0.15">n=3</text>
<line x1="304.75" y1="209.68" x2="304.75" y2="209.20" stroke="#111" stroke-width="0.8"/>
<line x1="303.25" y1="209.20" x2="306.25" y2="209.20" stroke="#111" stroke-width="0.8"/>
<rect x="303.15" y="210.18" width="3.20" height="2.22" fill="#ffffff" stroke="#111" stroke-width="0.95"/>
<line x1="309.25" y1="209.00" x2="309.25" y2="208.52" stroke="#111" stroke-width="0.8"/>
<line x1="307.75" y1="208.52" x2="310.75" y2="208.52" stroke="#111" stroke-width="0.8"/>
<rect x="307.65" y="209.50" width="3.20" height="2.90" fill="url(#pl)" stroke="#111" stroke-width="0.95"/>
<line x1="313.75" y1="209.00" x2="313.75" y2="208.52" stroke="#111" stroke-width="0.8"/>
<line x1="312.25" y1="208.52" x2="315.25" y2="208.52" stroke="#111" stroke-width="0.8"/>
<rect x="312.15" y="209.50" width="3.20" height="2.90" fill="url(#pd)" stroke="#111" stroke-width="0.95"/>
<line x1="318.25" y1="209.49" x2="318.25" y2="209.00" stroke="#111" stroke-width="0.8"/>
<line x1="316.75" y1="209.00" x2="319.75" y2="209.00" stroke="#111" stroke-width="0.8"/>
<rect x="316.65" y="209.99" width="3.20" height="2.41" fill="#0a0a0a" stroke="#111" stroke-width="0.95"/>
<line x1="326.25" y1="208.03" x2="326.25" y2="207.45" stroke="#111" stroke-width="0.8"/>
<line x1="324.75" y1="207.45" x2="327.75" y2="207.45" stroke="#111" stroke-width="0.8"/>
<rect x="324.65" y="208.53" width="3.20" height="3.87" fill="#ffffff" stroke="#111" stroke-width="0.95"/>
<line x1="330.75" y1="206.09" x2="330.75" y2="205.31" stroke="#111" stroke-width="0.8"/>
<line x1="329.25" y1="205.31" x2="332.25" y2="205.31" stroke="#111" stroke-width="0.8"/>
<rect x="329.15" y="206.59" width="3.20" height="5.81" fill="url(#pl)" stroke="#111" stroke-width="0.95"/>
<line x1="335.25" y1="206.57" x2="335.25" y2="205.80" stroke="#111" stroke-width="0.8"/>
<line x1="333.75" y1="205.80" x2="336.75" y2="205.80" stroke="#111" stroke-width="0.8"/>
<rect x="333.65" y="207.07" width="3.20" height="5.33" fill="url(#pd)" stroke="#111" stroke-width="0.95"/>
<line x1="339.75" y1="207.54" x2="339.75" y2="206.96" stroke="#111" stroke-width="0.8"/>
<line x1="338.25" y1="206.96" x2="341.25" y2="206.96" stroke="#111" stroke-width="0.8"/>
<rect x="338.15" y="208.04" width="3.20" height="4.36" fill="#0a0a0a" stroke="#111" stroke-width="0.95"/>
<line x1="347.75" y1="206.57" x2="347.75" y2="205.99" stroke="#111" stroke-width="0.8"/>
<line x1="346.25" y1="205.99" x2="349.25" y2="205.99" stroke="#111" stroke-width="0.8"/>
<rect x="346.15" y="207.07" width="3.20" height="5.33" fill="#ffffff" stroke="#111" stroke-width="0.95"/>
<line x1="352.25" y1="204.15" x2="352.25" y2="203.37" stroke="#111" stroke-width="0.8"/>
<line x1="350.75" y1="203.37" x2="353.75" y2="203.37" stroke="#111" stroke-width="0.8"/>
<rect x="350.65" y="204.65" width="3.20" height="7.75" fill="url(#pl)" stroke="#111" stroke-width="0.95"/>
<line x1="356.75" y1="203.66" x2="356.75" y2="202.88" stroke="#111" stroke-width="0.8"/>
<line x1="355.25" y1="202.88" x2="358.25" y2="202.88" stroke="#111" stroke-width="0.8"/>
<rect x="355.15" y="204.16" width="3.20" height="8.24" fill="url(#pd)" stroke="#111" stroke-width="0.95"/>
<line x1="361.25" y1="204.15" x2="361.25" y2="203.37" stroke="#111" stroke-width="0.8"/>
<line x1="359.75" y1="203.37" x2="362.75" y2="203.37" stroke="#111" stroke-width="0.8"/>
<rect x="359.65" y="204.65" width="3.20" height="7.75" fill="#0a0a0a" stroke="#111" stroke-width="0.95"/>
<line x1="369.25" y1="198.42" x2="369.25" y2="195.99" stroke="#111" stroke-width="0.8"/>
<line x1="367.75" y1="195.99" x2="370.75" y2="195.99" stroke="#111" stroke-width="0.8"/>
<rect x="367.65" y="198.92" width="3.20" height="13.48" fill="#ffffff" stroke="#111" stroke-width="0.95"/>
<line x1="373.75" y1="192.01" x2="373.75" y2="189.09" stroke="#111" stroke-width="0.8"/>
<line x1="372.25" y1="189.09" x2="375.25" y2="189.09" stroke="#111" stroke-width="0.8"/>
<rect x="372.15" y="192.51" width="3.20" height="19.89" fill="url(#pl)" stroke="#111" stroke-width="0.95"/>
<line x1="378.25" y1="191.04" x2="378.25" y2="187.64" stroke="#111" stroke-width="0.8"/>
<line x1="376.75" y1="187.64" x2="379.75" y2="187.64" stroke="#111" stroke-width="0.8"/>
<rect x="376.65" y="191.54" width="3.20" height="20.86" fill="url(#pd)" stroke="#111" stroke-width="0.95"/>
<line x1="382.75" y1="190.06" x2="382.75" y2="187.15" stroke="#111" stroke-width="0.8"/>
<line x1="381.25" y1="187.15" x2="384.25" y2="187.15" stroke="#111" stroke-width="0.8"/>
<rect x="381.15" y="190.56" width="3.20" height="21.84" fill="#0a0a0a" stroke="#111" stroke-width="0.95"/>
<line x1="390.55" y1="177.63" x2="390.55" y2="174.24" stroke="#111" stroke-width="0.8"/>
<line x1="389.05" y1="174.24" x2="392.05" y2="174.24" stroke="#111" stroke-width="0.8"/>
<rect x="388.95" y="178.13" width="3.20" height="34.27" fill="#ffffff" stroke="#111" stroke-width="0.95"/>
<line x1="395.05" y1="166.95" x2="395.05" y2="162.10" stroke="#111" stroke-width="0.8"/>
<line x1="393.55" y1="162.10" x2="396.55" y2="162.10" stroke="#111" stroke-width="0.8"/>
<rect x="393.45" y="167.45" width="3.20" height="44.95" fill="url(#pl)" stroke="#111" stroke-width="0.95"/>
<line x1="399.55" y1="165.01" x2="399.55" y2="159.18" stroke="#111" stroke-width="0.8"/>
<line x1="398.05" y1="159.18" x2="401.05" y2="159.18" stroke="#111" stroke-width="0.8"/>
<rect x="397.95" y="165.51" width="3.20" height="46.89" fill="url(#pd)" stroke="#111" stroke-width="0.95"/>
<line x1="404.05" y1="164.43" x2="404.05" y2="158.60" stroke="#111" stroke-width="0.8"/>
<line x1="402.55" y1="158.60" x2="405.55" y2="158.60" stroke="#111" stroke-width="0.8"/>
<rect x="402.45" y="164.93" width="3.20" height="47.47" fill="#0a0a0a" stroke="#111" stroke-width="0.95"/>
<line x1="412.25" y1="149.57" x2="412.25" y2="145.68" stroke="#111" stroke-width="0.8"/>
<line x1="410.75" y1="145.68" x2="413.75" y2="145.68" stroke="#111" stroke-width="0.8"/>
<rect x="410.65" y="150.07" width="3.20" height="62.33" fill="#ffffff" stroke="#111" stroke-width="0.95"/>
<line x1="416.75" y1="139.96" x2="416.75" y2="137.04" stroke="#111" stroke-width="0.8"/>
<line x1="415.25" y1="137.04" x2="418.25" y2="137.04" stroke="#111" stroke-width="0.8"/>
<rect x="415.15" y="140.46" width="3.20" height="71.94" fill="url(#pl)" stroke="#111" stroke-width="0.95"/>
<line x1="421.25" y1="138.98" x2="421.25" y2="136.56" stroke="#111" stroke-width="0.8"/>
<line x1="419.75" y1="136.56" x2="422.75" y2="136.56" stroke="#111" stroke-width="0.8"/>
<rect x="419.65" y="139.48" width="3.20" height="72.92" fill="url(#pd)" stroke="#111" stroke-width="0.95"/>
<line x1="425.75" y1="137.62" x2="425.75" y2="134.23" stroke="#111" stroke-width="0.8"/>
<line x1="424.25" y1="134.23" x2="427.25" y2="134.23" stroke="#111" stroke-width="0.8"/>
<rect x="424.15" y="138.12" width="3.20" height="74.28" fill="#0a0a0a" stroke="#111" stroke-width="0.95"/>
<line x1="301.00" y1="124.40" x2="301.00" y2="213.10" stroke="#000" stroke-width="1.5"/>
<line x1="300.30" y1="212.40" x2="431.60" y2="212.40" stroke="#000" stroke-width="1.5"/>
<line x1="297.80" y1="212.40" x2="301.00" y2="212.40" stroke="#000" stroke-width="1.2"/>
<text x="297.50" y="214.65" font-size="6.2" font-weight="bold" text-anchor="end" fill="#000">0</text>
<line x1="297.80" y1="197.83" x2="301.00" y2="197.83" stroke="#000" stroke-width="1.2"/>
<text x="297.50" y="200.08" font-size="6.2" font-weight="bold" text-anchor="end" fill="#000">15</text>
<line x1="297.80" y1="183.27" x2="301.00" y2="183.27" stroke="#000" stroke-width="1.2"/>
<text x="297.50" y="185.52" font-size="6.2" font-weight="bold" text-anchor="end" fill="#000">30</text>
<line x1="297.80" y1="168.70" x2="301.00" y2="168.70" stroke="#000" stroke-width="1.2"/>
<text x="297.50" y="170.95" font-size="6.2" font-weight="bold" text-anchor="end" fill="#000">45</text>
<line x1="297.80" y1="154.13" x2="301.00" y2="154.13" stroke="#000" stroke-width="1.2"/>
<text x="297.50" y="156.38" font-size="6.2" font-weight="bold" text-anchor="end" fill="#000">60</text>
<line x1="297.80" y1="139.57" x2="301.00" y2="139.57" stroke="#000" stroke-width="1.2"/>
<text x="297.50" y="141.82" font-size="6.2" font-weight="bold" text-anchor="end" fill="#000">75</text>
<line x1="297.80" y1="125.00" x2="301.00" y2="125.00" stroke="#000" stroke-width="1.2"/>
<text x="297.50" y="127.25" font-size="6.2" font-weight="bold" text-anchor="end" fill="#000">90</text>
<line x1="311.50" y1="212.40" x2="311.50" y2="215.40" stroke="#000" stroke-width="1.2"/>
<text x="311.50" y="221.40" font-size="6.8" font-weight="bold" text-anchor="middle" fill="#000">0</text>
<line x1="333.00" y1="212.40" x2="333.00" y2="215.40" stroke="#000" stroke-width="1.2"/>
<text x="333.00" y="221.40" font-size="6.8" font-weight="bold" text-anchor="middle" fill="#000">0.1</text>
<line x1="354.50" y1="212.40" x2="354.50" y2="215.40" stroke="#000" stroke-width="1.2"/>
<text x="354.50" y="221.40" font-size="6.8" font-weight="bold" text-anchor="middle" fill="#000">0.25</text>
<line x1="376.00" y1="212.40" x2="376.00" y2="215.40" stroke="#000" stroke-width="1.2"/>
<text x="376.00" y="221.40" font-size="6.8" font-weight="bold" text-anchor="middle" fill="#000">0.5</text>
<line x1="397.30" y1="212.40" x2="397.30" y2="215.40" stroke="#000" stroke-width="1.2"/>
<text x="397.30" y="221.40" font-size="6.8" font-weight="bold" text-anchor="middle" fill="#000">1.0</text>
<line x1="419.00" y1="212.40" x2="419.00" y2="215.40" stroke="#000" stroke-width="1.2"/>
<text x="419.00" y="221.40" font-size="6.8" font-weight="bold" text-anchor="middle" fill="#000">2.5</text>
<text class="big" x="365.50" y="235.30" font-size="9.05" font-weight="bold" text-anchor="middle" fill="#000">Calicheamicin (ng/mL)</text>
<text class="big" x="284.4" y="168" font-size="10.1" font-weight="bold" text-anchor="middle" fill="#000" transform="rotate(-90 284.4 168)">PI<tspan font-size="6.5" dy="-4" dx="0.7">+</tspan><tspan dy="4" dx="1.3"> cells (%)</tspan></text>
<text class="big" x="306.40" y="136.80" font-size="8.0" font-weight="bold" text-anchor="start" fill="#000">HL-60</text>
<text x="330.75" y="205.26" font-size="7.6" font-weight="bold" text-anchor="middle" fill="#000">*</text>
<text x="335.25" y="205.26" font-size="7.6" font-weight="bold" text-anchor="middle" fill="#000">*</text>
<text x="352.25" y="202.86" font-size="7.6" font-weight="bold" text-anchor="middle" fill="#000">*</text>
<text x="356.75" y="199.27" font-size="6.3" font-weight="bold" text-anchor="middle" fill="#000">#</text>
<text x="361.25" y="199.67" font-size="6.3" font-weight="bold" text-anchor="middle" fill="#000">#</text>
<text x="373.75" y="186.67" font-size="6.3" font-weight="bold" text-anchor="middle" fill="#000">#</text>
<text x="378.25" y="185.87" font-size="6.3" font-weight="bold" text-anchor="middle" fill="#000">#</text>
<text x="382.75" y="184.67" font-size="6.3" font-weight="bold" text-anchor="middle" fill="#000">#</text>
<text x="395.05" y="159.27" font-size="6.3" font-weight="bold" text-anchor="middle" fill="#000">#</text>
<text x="399.55" y="156.67" font-size="6.3" font-weight="bold" text-anchor="middle" fill="#000">#</text>
<text x="404.05" y="156.67" font-size="6.3" font-weight="bold" text-anchor="middle" fill="#000">#</text>
<text x="416.75" y="134.21" font-size="6.5" font-weight="bold" text-anchor="middle" fill="#000">$</text>
<text x="421.25" y="133.21" font-size="6.5" font-weight="bold" text-anchor="middle" fill="#000">$</text>
<text x="425.75" y="130.61" font-size="6.5" font-weight="bold" text-anchor="middle" fill="#000">$</text>
<rect x="440.80" y="128.70" width="10.00" height="5.00" fill="#ffffff" stroke="#222" stroke-width="0.8"/>
<text x="455.80" y="133.70" font-size="7.15" font-weight="bold" fill="#000">Cali</text>
<rect x="440.80" y="138.75" width="10.00" height="5.00" fill="url(#pl)" stroke="#222" stroke-width="0.8"/>
<text x="455.80" y="143.75" font-size="7.15" font-weight="bold" fill="#000">Cali+BC8 1 <tspan font-weight="normal">&#181;</tspan>g/mL</text>
<rect x="440.80" y="148.80" width="10.00" height="5.00" fill="url(#pd)" stroke="#222" stroke-width="0.8"/>
<text x="455.80" y="153.80" font-size="7.15" font-weight="bold" fill="#000">Cali+BC8 5 <tspan font-weight="normal">&#181;</tspan>g/mL</text>
<rect x="440.80" y="158.85" width="10.00" height="5.00" fill="#0a0a0a" stroke="#222" stroke-width="0.8"/>
<text x="455.80" y="163.85" font-size="7.15" font-weight="bold" fill="#000">Cali+BC8 20 <tspan font-weight="normal">&#181;</tspan>g/mL</text>
<text class="big" x="449.60" y="205.70" font-size="8.2"  text-anchor="start" fill="#000" stroke="#000" stroke-width="0.15">n=4</text>
<line x1="43.25" y1="333.59" x2="43.25" y2="331.84" stroke="#111" stroke-width="0.8"/>
<line x1="41.75" y1="331.84" x2="44.75" y2="331.84" stroke="#111" stroke-width="0.8"/>
<rect x="41.65" y="334.09" width="3.20" height="4.31" fill="#ffffff" stroke="#111" stroke-width="0.95"/>
<line x1="47.75" y1="334.03" x2="47.75" y2="332.28" stroke="#111" stroke-width="0.8"/>
<line x1="46.25" y1="332.28" x2="49.25" y2="332.28" stroke="#111" stroke-width="0.8"/>
<rect x="46.15" y="334.53" width="3.20" height="3.87" fill="url(#pl)" stroke="#111" stroke-width="0.95"/>
<line x1="52.25" y1="332.86" x2="52.25" y2="331.12" stroke="#111" stroke-width="0.8"/>
<line x1="50.75" y1="331.12" x2="53.75" y2="331.12" stroke="#111" stroke-width="0.8"/>
<rect x="50.65" y="333.36" width="3.20" height="5.04" fill="url(#pd)" stroke="#111" stroke-width="0.95"/>
<line x1="56.75" y1="333.74" x2="56.75" y2="332.28" stroke="#111" stroke-width="0.8"/>
<line x1="55.25" y1="332.28" x2="58.25" y2="332.28" stroke="#111" stroke-width="0.8"/>
<rect x="55.15" y="334.24" width="3.20" height="4.16" fill="#0a0a0a" stroke="#111" stroke-width="0.95"/>
<line x1="64.75" y1="331.12" x2="64.75" y2="328.93" stroke="#111" stroke-width="0.8"/>
<line x1="63.25" y1="328.93" x2="66.25" y2="328.93" stroke="#111" stroke-width="0.8"/>
<rect x="63.15" y="331.62" width="3.20" height="6.78" fill="#ffffff" stroke="#111" stroke-width="0.95"/>
<line x1="69.25" y1="327.04" x2="69.25" y2="324.85" stroke="#111" stroke-width="0.8"/>
<line x1="67.75" y1="324.85" x2="70.75" y2="324.85" stroke="#111" stroke-width="0.8"/>
<rect x="67.65" y="327.54" width="3.20" height="10.86" fill="url(#pl)" stroke="#111" stroke-width="0.95"/>
<line x1="73.75" y1="331.12" x2="73.75" y2="328.20" stroke="#111" stroke-width="0.8"/>
<line x1="72.25" y1="328.20" x2="75.25" y2="328.20" stroke="#111" stroke-width="0.8"/>
<rect x="72.15" y="331.62" width="3.20" height="6.78" fill="url(#pd)" stroke="#111" stroke-width="0.95"/>
<line x1="78.25" y1="327.62" x2="78.25" y2="324.71" stroke="#111" stroke-width="0.8"/>
<line x1="76.75" y1="324.71" x2="79.75" y2="324.71" stroke="#111" stroke-width="0.8"/>
<rect x="76.65" y="328.12" width="3.20" height="10.28" fill="#0a0a0a" stroke="#111" stroke-width="0.95"/>
<line x1="86.25" y1="326.02" x2="86.25" y2="323.10" stroke="#111" stroke-width="0.8"/>
<line x1="84.75" y1="323.10" x2="87.75" y2="323.10" stroke="#111" stroke-width="0.8"/>
<rect x="84.65" y="326.52" width="3.20" height="11.88" fill="#ffffff" stroke="#111" stroke-width="0.95"/>
<line x1="90.75" y1="313.64" x2="90.75" y2="307.81" stroke="#111" stroke-width="0.8"/>
<line x1="89.25" y1="307.81" x2="92.25" y2="307.81" stroke="#111" stroke-width="0.8"/>
<rect x="89.15" y="314.14" width="3.20" height="24.26" fill="url(#pl)" stroke="#111" stroke-width="0.95"/>
<line x1="95.25" y1="325.58" x2="95.25" y2="322.67" stroke="#111" stroke-width="0.8"/>
<line x1="93.75" y1="322.67" x2="96.75" y2="322.67" stroke="#111" stroke-width="0.8"/>
<rect x="93.65" y="326.08" width="3.20" height="12.32" fill="url(#pd)" stroke="#111" stroke-width="0.95"/>
<line x1="99.75" y1="313.05" x2="99.75" y2="305.77" stroke="#111" stroke-width="0.8"/>
<line x1="98.25" y1="305.77" x2="101.25" y2="305.77" stroke="#111" stroke-width="0.8"/>
<rect x="98.15" y="313.55" width="3.20" height="24.85" fill="#0a0a0a" stroke="#111" stroke-width="0.95"/>
<line x1="108.05" y1="308.39" x2="108.05" y2="299.94" stroke="#111" stroke-width="0.8"/>
<line x1="106.55" y1="299.94" x2="109.55" y2="299.94" stroke="#111" stroke-width="0.8"/>
<rect x="106.45" y="308.89" width="3.20" height="29.51" fill="#ffffff" stroke="#111" stroke-width="0.95"/>
<line x1="112.55" y1="294.41" x2="112.55" y2="284.94" stroke="#111" stroke-width="0.8"/>
<line x1="111.05" y1="284.94" x2="114.05" y2="284.94" stroke="#111" stroke-width="0.8"/>
<rect x="110.95" y="294.91" width="3.20" height="43.49" fill="url(#pl)" stroke="#111" stroke-width="0.95"/>
<line x1="117.05" y1="310.43" x2="117.05" y2="302.42" stroke="#111" stroke-width="0.8"/>
<line x1="115.55" y1="302.42" x2="118.55" y2="302.42" stroke="#111" stroke-width="0.8"/>
<rect x="115.45" y="310.93" width="3.20" height="27.47" fill="url(#pd)" stroke="#111" stroke-width="0.95"/>
<line x1="121.55" y1="294.99" x2="121.55" y2="284.94" stroke="#111" stroke-width="0.8"/>
<line x1="120.05" y1="284.94" x2="123.05" y2="284.94" stroke="#111" stroke-width="0.8"/>
<rect x="119.95" y="295.49" width="3.20" height="42.91" fill="#0a0a0a" stroke="#111" stroke-width="0.95"/>
<line x1="129.25" y1="300.96" x2="129.25" y2="291.50" stroke="#111" stroke-width="0.8"/>
<line x1="127.75" y1="291.50" x2="130.75" y2="291.50" stroke="#111" stroke-width="0.8"/>
<rect x="127.65" y="301.46" width="3.20" height="36.94" fill="#ffffff" stroke="#111" stroke-width="0.95"/>
<line x1="133.75" y1="292.08" x2="133.75" y2="284.07" stroke="#111" stroke-width="0.8"/>
<line x1="132.25" y1="284.07" x2="135.25" y2="284.07" stroke="#111" stroke-width="0.8"/>
<rect x="132.15" y="292.58" width="3.20" height="45.82" fill="url(#pl)" stroke="#111" stroke-width="0.95"/>
<line x1="138.25" y1="299.07" x2="138.25" y2="290.48" stroke="#111" stroke-width="0.8"/>
<line x1="136.75" y1="290.48" x2="139.75" y2="290.48" stroke="#111" stroke-width="0.8"/>
<rect x="136.65" y="299.57" width="3.20" height="38.83" fill="url(#pd)" stroke="#111" stroke-width="0.95"/>
<line x1="142.75" y1="288.44" x2="142.75" y2="279.99" stroke="#111" stroke-width="0.8"/>
<line x1="141.25" y1="279.99" x2="144.25" y2="279.99" stroke="#111" stroke-width="0.8"/>
<rect x="141.15" y="288.94" width="3.20" height="49.46" fill="#0a0a0a" stroke="#111" stroke-width="0.95"/>
<line x1="150.75" y1="291.35" x2="150.75" y2="281.88" stroke="#111" stroke-width="0.8"/>
<line x1="149.25" y1="281.88" x2="152.25" y2="281.88" stroke="#111" stroke-width="0.8"/>
<rect x="149.15" y="291.85" width="3.20" height="46.55" fill="#ffffff" stroke="#111" stroke-width="0.95"/>
<line x1="155.25" y1="280.13" x2="155.25" y2="271.10" stroke="#111" stroke-width="0.8"/>
<line x1="153.75" y1="271.10" x2="156.75" y2="271.10" stroke="#111" stroke-width="0.8"/>
<rect x="153.65" y="280.63" width="3.20" height="57.77" fill="url(#pl)" stroke="#111" stroke-width="0.95"/>
<line x1="159.75" y1="288.00" x2="159.75" y2="279.99" stroke="#111" stroke-width="0.8"/>
<line x1="158.25" y1="279.99" x2="161.25" y2="279.99" stroke="#111" stroke-width="0.8"/>
<rect x="158.15" y="288.50" width="3.20" height="49.90" fill="url(#pd)" stroke="#111" stroke-width="0.95"/>
<line x1="164.25" y1="277.95" x2="164.25" y2="268.33" stroke="#111" stroke-width="0.8"/>
<line x1="162.75" y1="268.33" x2="165.75" y2="268.33" stroke="#111" stroke-width="0.8"/>
<rect x="162.65" y="278.45" width="3.20" height="59.95" fill="#0a0a0a" stroke="#111" stroke-width="0.95"/>
<line x1="39.60" y1="250.40" x2="39.60" y2="339.10" stroke="#000" stroke-width="1.5"/>
<line x1="38.90" y1="338.40" x2="171.00" y2="338.40" stroke="#000" stroke-width="1.5"/>
<line x1="36.40" y1="338.40" x2="39.60" y2="338.40" stroke="#000" stroke-width="1.2"/>
<text x="36.10" y="340.65" font-size="6.2" font-weight="bold" text-anchor="end" fill="#000">0</text>
<line x1="36.40" y1="316.55" x2="39.60" y2="316.55" stroke="#000" stroke-width="1.2"/>
<text x="36.10" y="318.80" font-size="6.2" font-weight="bold" text-anchor="end" fill="#000">15</text>
<line x1="36.40" y1="294.70" x2="39.60" y2="294.70" stroke="#000" stroke-width="1.2"/>
<text x="36.10" y="296.95" font-size="6.2" font-weight="bold" text-anchor="end" fill="#000">30</text>
<line x1="36.40" y1="272.85" x2="39.60" y2="272.85" stroke="#000" stroke-width="1.2"/>
<text x="36.10" y="275.10" font-size="6.2" font-weight="bold" text-anchor="end" fill="#000">45</text>
<line x1="36.40" y1="251.00" x2="39.60" y2="251.00" stroke="#000" stroke-width="1.2"/>
<text x="36.10" y="253.25" font-size="6.2" font-weight="bold" text-anchor="end" fill="#000">60</text>
<line x1="50.00" y1="338.40" x2="50.00" y2="341.40" stroke="#000" stroke-width="1.2"/>
<text x="50.00" y="348.00" font-size="6.8" font-weight="bold" text-anchor="middle" fill="#000">0</text>
<line x1="71.50" y1="338.40" x2="71.50" y2="341.40" stroke="#000" stroke-width="1.2"/>
<text x="71.50" y="348.00" font-size="6.8" font-weight="bold" text-anchor="middle" fill="#000">0.005</text>
<line x1="93.00" y1="338.40" x2="93.00" y2="341.40" stroke="#000" stroke-width="1.2"/>
<text x="93.00" y="348.00" font-size="6.8" font-weight="bold" text-anchor="middle" fill="#000">0.01</text>
<line x1="114.80" y1="338.40" x2="114.80" y2="341.40" stroke="#000" stroke-width="1.2"/>
<text x="114.80" y="348.00" font-size="6.8" font-weight="bold" text-anchor="middle" fill="#000">0.025</text>
<line x1="136.00" y1="338.40" x2="136.00" y2="341.40" stroke="#000" stroke-width="1.2"/>
<text x="136.00" y="348.00" font-size="6.8" font-weight="bold" text-anchor="middle" fill="#000">0.05</text>
<line x1="157.50" y1="338.40" x2="157.50" y2="341.40" stroke="#000" stroke-width="1.2"/>
<text x="157.50" y="348.00" font-size="6.8" font-weight="bold" text-anchor="middle" fill="#000">0.1</text>
<text class="big" x="105.50" y="362.00" font-size="9.3" font-weight="bold" text-anchor="middle" fill="#000">GO (ng/mL)</text>
<text class="big" x="23.0" y="296" font-size="10.1" font-weight="bold" text-anchor="middle" fill="#000" transform="rotate(-90 23.0 296)">PI<tspan font-size="6.5" dy="-4" dx="0.7">+</tspan><tspan dy="4" dx="1.3"> cells (%)</tspan></text>
<text class="big" x="45.00" y="262.80" font-size="8.0" font-weight="bold" text-anchor="start" fill="#000">ML-1</text>
<text x="69.25" y="322.52" font-size="7.4" font-weight="bold" text-anchor="middle" fill="#000">$</text>
<text x="78.25" y="322.52" font-size="7.4" font-weight="bold" text-anchor="middle" fill="#000">$</text>
<text class="big" x="90.75" y="309.76" font-size="8.5" font-weight="bold" text-anchor="middle" fill="#000">*</text>
<text class="big" x="99.75" y="306.76" font-size="8.5" font-weight="bold" text-anchor="middle" fill="#000">*</text>
<text x="112.55" y="283.52" font-size="7.4" font-weight="bold" text-anchor="middle" fill="#000">$</text>
<text x="121.55" y="283.12" font-size="7.0" font-weight="bold" text-anchor="middle" fill="#000">#</text>
<text class="big" x="155.25" y="272.36" font-size="8.5" font-weight="bold" text-anchor="middle" fill="#000">*</text>
<text x="164.25" y="266.12" font-size="7.0" font-weight="bold" text-anchor="middle" fill="#000">#</text>
<rect x="179.40" y="254.90" width="10.00" height="5.00" fill="#ffffff" stroke="#222" stroke-width="0.8"/>
<text x="194.40" y="259.90" font-size="7.3" font-weight="bold" fill="#000">GO</text>
<rect x="179.40" y="264.95" width="10.00" height="5.00" fill="url(#pl)" stroke="#222" stroke-width="0.8"/>
<text x="194.40" y="269.95" font-size="7.3" font-weight="bold" fill="#000">GO+BC8 20 <tspan font-weight="normal">&#181;</tspan>g/mL</text>
<rect x="179.40" y="275.00" width="10.00" height="5.00" fill="url(#pd)" stroke="#222" stroke-width="0.8"/>
<text x="194.40" y="280.00" font-size="7.3" font-weight="bold" fill="#000">GO+31A 20 <tspan font-weight="normal">&#181;</tspan>g/mL</text>
<rect x="179.40" y="285.05" width="10.00" height="5.00" fill="#0a0a0a" stroke="#222" stroke-width="0.8"/>
<text x="194.40" y="290.05" font-size="7.3" font-weight="bold" fill="#000">GO+BC8+31A</text>
<text class="big" x="189.10" y="332.80" font-size="8.2"  text-anchor="start" fill="#000" stroke="#000" stroke-width="0.15">n=3</text>
<text class="big" x="3.00" y="9.70" font-size="10.3" font-weight="bold" text-anchor="start" fill="#000" textLength="7.8" lengthAdjust="spacingAndGlyphs">A</text>
<text class="big" x="272.40" y="9.70" font-size="10.3" font-weight="bold" text-anchor="start" fill="#000" textLength="7.6" lengthAdjust="spacingAndGlyphs">B</text>
<text class="big" x="3.00" y="258.20" font-size="10.3" font-weight="bold" text-anchor="start" fill="#000" textLength="7.6" lengthAdjust="spacingAndGlyphs">C</text>
<text class="big" x="2.40" y="381.80" font-size="10.3" font-weight="bold" text-anchor="start" fill="#000" textLength="7.6" lengthAdjust="spacingAndGlyphs">D</text>
<text class="big" x="248.00" y="382.60" font-size="10.3" font-weight="bold" text-anchor="start" fill="#000" textLength="7.2" lengthAdjust="spacingAndGlyphs">E</text>
<polyline points="37.40,469.00 67.40,434.94 97.40,417.03 127.40,406.60 157.40,400.99" fill="none" stroke="#111" stroke-width="0.9"/>
<polyline points="37.40,469.00 67.40,427.36 97.40,410.44 127.40,398.47 157.40,393.63" fill="none" stroke="#111" stroke-width="0.9"/>
<circle cx="67.40" cy="434.94" r="1.7" fill="#0a0a0a"/>
<rect x="65.70" y="425.66" width="3.4" height="3.4" fill="#0a0a0a"/>
<circle cx="97.40" cy="417.03" r="1.7" fill="#0a0a0a"/>
<rect x="95.70" y="408.74" width="3.4" height="3.4" fill="#0a0a0a"/>
<circle cx="127.40" cy="406.60" r="1.7" fill="#0a0a0a"/>
<rect x="125.70" y="396.77" width="3.4" height="3.4" fill="#0a0a0a"/>
<circle cx="157.40" cy="400.99" r="1.7" fill="#0a0a0a"/>
<rect x="155.70" y="391.93" width="3.4" height="3.4" fill="#0a0a0a"/>
<line x1="37.40" y1="386.00" x2="37.40" y2="469.70" stroke="#000" stroke-width="1.5"/>
<line x1="36.70" y1="469.00" x2="162.90" y2="469.00" stroke="#000" stroke-width="1.6"/>
<line x1="34.20" y1="469.00" x2="37.40" y2="469.00" stroke="#000" stroke-width="1.2"/>
<text x="34.00" y="471.10" font-size="5.9" font-weight="bold" text-anchor="end" fill="#000">0</text>
<line x1="34.20" y1="452.52" x2="37.40" y2="452.52" stroke="#000" stroke-width="1.2"/>
<text x="34.00" y="454.62" font-size="5.9" font-weight="bold" text-anchor="end" fill="#000">15</text>
<line x1="34.20" y1="436.04" x2="37.40" y2="436.04" stroke="#000" stroke-width="1.2"/>
<text x="34.00" y="438.14" font-size="5.9" font-weight="bold" text-anchor="end" fill="#000">30</text>
<line x1="34.20" y1="419.56" x2="37.40" y2="419.56" stroke="#000" stroke-width="1.2"/>
<text x="34.00" y="421.66" font-size="5.9" font-weight="bold" text-anchor="end" fill="#000">45</text>
<line x1="34.20" y1="403.08" x2="37.40" y2="403.08" stroke="#000" stroke-width="1.2"/>
<text x="34.00" y="405.18" font-size="5.9" font-weight="bold" text-anchor="end" fill="#000">60</text>
<line x1="34.20" y1="386.60" x2="37.40" y2="386.60" stroke="#000" stroke-width="1.2"/>
<text x="34.00" y="388.70" font-size="5.9" font-weight="bold" text-anchor="end" fill="#000">75</text>
<line x1="37.40" y1="469.00" x2="37.40" y2="472.00" stroke="#000" stroke-width="1.2"/>
<text x="37.40" y="477.60" font-size="5.9" font-weight="bold" text-anchor="middle" fill="#000">0</text>
<line x1="67.40" y1="469.00" x2="67.40" y2="472.00" stroke="#000" stroke-width="1.2"/>
<text x="67.40" y="477.60" font-size="5.9" font-weight="bold" text-anchor="middle" fill="#000">30</text>
<line x1="97.40" y1="469.00" x2="97.40" y2="472.00" stroke="#000" stroke-width="1.2"/>
<text x="97.40" y="477.60" font-size="5.9" font-weight="bold" text-anchor="middle" fill="#000">60</text>
<line x1="127.40" y1="469.00" x2="127.40" y2="472.00" stroke="#000" stroke-width="1.2"/>
<text x="127.40" y="477.60" font-size="5.9" font-weight="bold" text-anchor="middle" fill="#000">90</text>
<line x1="157.40" y1="469.00" x2="157.40" y2="472.00" stroke="#000" stroke-width="1.2"/>
<text x="157.40" y="477.60" font-size="5.9" font-weight="bold" text-anchor="middle" fill="#000">120</text>
<text class="big" x="99.50" y="491.20" font-size="9.2" font-weight="bold" text-anchor="middle" fill="#000" textLength="66" lengthAdjust="spacingAndGlyphs">Incubation (min)</text>
<text class="big" x="21.10" y="431.00" font-size="9.2" font-weight="bold" text-anchor="middle" fill="#000" transform="rotate(-90 21.10 431.00)" textLength="102" lengthAdjust="spacingAndGlyphs">% hP67.6 Internalization</text>
<text class="big" x="43.00" y="397.30" font-size="8.0" font-weight="bold" text-anchor="start" fill="#000">ML-1</text>
<text class="big" x="67.40" y="424.50" font-size="8.5" font-weight="bold" text-anchor="middle" fill="#000">*</text>
<text class="big" x="127.40" y="395.30" font-size="8.5" font-weight="bold" text-anchor="middle" fill="#000">*</text>
<text class="big" x="157.40" y="390.30" font-size="8.5" font-weight="bold" text-anchor="middle" fill="#000">*</text>
<line x1="171.60" y1="392.00" x2="179.60" y2="392.00" stroke="#111" stroke-width="0.9"/>
<circle cx="175.6" cy="392.00" r="1.7" fill="#0a0a0a"/>
<text x="185" y="394.50" font-size="6.7" font-weight="bold" fill="#000" textLength="40" lengthAdjust="spacingAndGlyphs">Medium only</text>
<line x1="171.60" y1="402.40" x2="179.60" y2="402.40" stroke="#111" stroke-width="0.9"/>
<rect x="173.9" y="400.70" width="3.4" height="3.4" fill="#0a0a0a"/>
<text x="185" y="404.90" font-size="6.7" font-weight="bold" fill="#000" textLength="49.4" lengthAdjust="spacingAndGlyphs">+BC8 20 <tspan font-weight="normal">&#181;</tspan>g/mL</text>
<text class="big" x="178.60" y="461.70" font-size="8.2"  text-anchor="start" fill="#000" stroke="#000" stroke-width="0.15">n=3</text>
<polyline points="37.20,596.40 67.20,553.52 97.20,545.63 127.20,536.64 157.20,528.34" fill="none" stroke="#111" stroke-width="0.9"/>
<polyline points="37.20,596.40 67.20,550.34 97.20,538.99 127.20,527.92 157.20,519.62" fill="none" stroke="#111" stroke-width="0.9"/>
<line x1="67.20" y1="551.44" x2="67.20" y2="555.59" stroke="#111" stroke-width="0.7"/>
<line x1="65.60" y1="551.44" x2="68.80" y2="551.44" stroke="#111" stroke-width="0.7"/>
<line x1="65.60" y1="555.59" x2="68.80" y2="555.59" stroke="#111" stroke-width="0.7"/>
<line x1="67.20" y1="548.67" x2="67.20" y2="552.00" stroke="#111" stroke-width="0.7"/>
<line x1="65.60" y1="548.67" x2="68.80" y2="548.67" stroke="#111" stroke-width="0.7"/>
<line x1="65.60" y1="552.00" x2="68.80" y2="552.00" stroke="#111" stroke-width="0.7"/>
<circle cx="67.20" cy="553.52" r="1.7" fill="#0a0a0a"/>
<rect x="65.50" y="548.63" width="3.4" height="3.4" fill="#0a0a0a"/>
<line x1="97.20" y1="542.87" x2="97.20" y2="548.40" stroke="#111" stroke-width="0.7"/>
<line x1="95.60" y1="542.87" x2="98.80" y2="542.87" stroke="#111" stroke-width="0.7"/>
<line x1="95.60" y1="548.40" x2="98.80" y2="548.40" stroke="#111" stroke-width="0.7"/>
<line x1="97.20" y1="538.16" x2="97.20" y2="539.82" stroke="#111" stroke-width="0.7"/>
<line x1="95.60" y1="538.16" x2="98.80" y2="538.16" stroke="#111" stroke-width="0.7"/>
<line x1="95.60" y1="539.82" x2="98.80" y2="539.82" stroke="#111" stroke-width="0.7"/>
<circle cx="97.20" cy="545.63" r="1.7" fill="#0a0a0a"/>
<rect x="95.50" y="537.29" width="3.4" height="3.4" fill="#0a0a0a"/>
<line x1="127.20" y1="532.90" x2="127.20" y2="540.38" stroke="#111" stroke-width="0.7"/>
<line x1="125.60" y1="532.90" x2="128.80" y2="532.90" stroke="#111" stroke-width="0.7"/>
<line x1="125.60" y1="540.38" x2="128.80" y2="540.38" stroke="#111" stroke-width="0.7"/>
<line x1="127.20" y1="526.82" x2="127.20" y2="529.03" stroke="#111" stroke-width="0.7"/>
<line x1="125.60" y1="526.82" x2="128.80" y2="526.82" stroke="#111" stroke-width="0.7"/>
<line x1="125.60" y1="529.03" x2="128.80" y2="529.03" stroke="#111" stroke-width="0.7"/>
<circle cx="127.20" cy="536.64" r="1.7" fill="#0a0a0a"/>
<rect x="125.50" y="526.22" width="3.4" height="3.4" fill="#0a0a0a"/>
<line x1="157.20" y1="524.88" x2="157.20" y2="531.80" stroke="#111" stroke-width="0.7"/>
<line x1="155.60" y1="524.88" x2="158.80" y2="524.88" stroke="#111" stroke-width="0.7"/>
<line x1="155.60" y1="531.80" x2="158.80" y2="531.80" stroke="#111" stroke-width="0.7"/>
<line x1="157.20" y1="518.52" x2="157.20" y2="520.73" stroke="#111" stroke-width="0.7"/>
<line x1="155.60" y1="518.52" x2="158.80" y2="518.52" stroke="#111" stroke-width="0.7"/>
<line x1="155.60" y1="520.73" x2="158.80" y2="520.73" stroke="#111" stroke-width="0.7"/>
<circle cx="157.20" cy="528.34" r="1.7" fill="#0a0a0a"/>
<rect x="155.50" y="517.92" width="3.4" height="3.4" fill="#0a0a0a"/>
<line x1="37.20" y1="512.80" x2="37.20" y2="597.10" stroke="#000" stroke-width="1.5"/>
<line x1="36.50" y1="596.40" x2="162.70" y2="596.40" stroke="#000" stroke-width="1.6"/>
<line x1="34.00" y1="596.40" x2="37.20" y2="596.40" stroke="#000" stroke-width="1.2"/>
<text x="33.80" y="598.50" font-size="5.9" font-weight="bold" text-anchor="end" fill="#000">0</text>
<line x1="34.00" y1="575.65" x2="37.20" y2="575.65" stroke="#000" stroke-width="1.2"/>
<text x="33.80" y="577.75" font-size="5.9" font-weight="bold" text-anchor="end" fill="#000">15</text>
<line x1="34.00" y1="554.90" x2="37.20" y2="554.90" stroke="#000" stroke-width="1.2"/>
<text x="33.80" y="557.00" font-size="5.9" font-weight="bold" text-anchor="end" fill="#000">30</text>
<line x1="34.00" y1="534.15" x2="37.20" y2="534.15" stroke="#000" stroke-width="1.2"/>
<text x="33.80" y="536.25" font-size="5.9" font-weight="bold" text-anchor="end" fill="#000">45</text>
<line x1="34.00" y1="513.40" x2="37.20" y2="513.40" stroke="#000" stroke-width="1.2"/>
<text x="33.80" y="515.50" font-size="5.9" font-weight="bold" text-anchor="end" fill="#000">60</text>
<line x1="37.20" y1="596.40" x2="37.20" y2="599.40" stroke="#000" stroke-width="1.2"/>
<text x="37.20" y="604.60" font-size="5.9" font-weight="bold" text-anchor="middle" fill="#000">0</text>
<line x1="67.20" y1="596.40" x2="67.20" y2="599.40" stroke="#000" stroke-width="1.2"/>
<text x="67.20" y="604.60" font-size="5.9" font-weight="bold" text-anchor="middle" fill="#000">30</text>
<line x1="97.20" y1="596.40" x2="97.20" y2="599.40" stroke="#000" stroke-width="1.2"/>
<text x="97.20" y="604.60" font-size="5.9" font-weight="bold" text-anchor="middle" fill="#000">60</text>
<line x1="127.20" y1="596.40" x2="127.20" y2="599.40" stroke="#000" stroke-width="1.2"/>
<text x="127.20" y="604.60" font-size="5.9" font-weight="bold" text-anchor="middle" fill="#000">90</text>
<line x1="157.20" y1="596.40" x2="157.20" y2="599.40" stroke="#000" stroke-width="1.2"/>
<text x="157.20" y="604.60" font-size="5.9" font-weight="bold" text-anchor="middle" fill="#000">120</text>
<text class="big" x="99.50" y="617.40" font-size="9.2" font-weight="bold" text-anchor="middle" fill="#000" textLength="66" lengthAdjust="spacingAndGlyphs">Incubation (min)</text>
<text class="big" x="20.90" y="555.50" font-size="9.2" font-weight="bold" text-anchor="middle" fill="#000" transform="rotate(-90 20.90 555.50)" textLength="99" lengthAdjust="spacingAndGlyphs">% hP67.6 Internalization</text>
<text class="big" x="42.00" y="525.20" font-size="8.0" font-weight="bold" text-anchor="start" fill="#000">HL-60</text>
<text class="big" x="127.20" y="526.30" font-size="8.5" font-weight="bold" text-anchor="middle" fill="#000">*</text>
<text class="big" x="157.20" y="517.80" font-size="8.5" font-weight="bold" text-anchor="middle" fill="#000">*</text>
<line x1="171.60" y1="519.00" x2="179.60" y2="519.00" stroke="#111" stroke-width="0.9"/>
<circle cx="175.6" cy="519.00" r="1.7" fill="#0a0a0a"/>
<text x="185" y="521.50" font-size="6.7" font-weight="bold" fill="#000" textLength="40" lengthAdjust="spacingAndGlyphs">Medium only</text>
<line x1="171.60" y1="529.40" x2="179.60" y2="529.40" stroke="#111" stroke-width="0.9"/>
<rect x="173.9" y="527.70" width="3.4" height="3.4" fill="#0a0a0a"/>
<text x="185" y="531.90" font-size="6.7" font-weight="bold" fill="#000" textLength="49.4" lengthAdjust="spacingAndGlyphs">+BC8 20 <tspan font-weight="normal">&#181;</tspan>g/mL</text>
<text class="big" x="178.60" y="588.70" font-size="8.2"  text-anchor="start" fill="#000" stroke="#000" stroke-width="0.15">n=7</text>
<line x1="303.50" y1="404.99" x2="303.50" y2="403.18" stroke="#000" stroke-width="1.1"/>
<line x1="298.00" y1="403.18" x2="309.00" y2="403.18" stroke="#000" stroke-width="1.1"/>
<rect x="293.00" y="404.99" width="21" height="64.01" fill="#0a0a0a"/>
<line x1="334.80" y1="456.01" x2="334.80" y2="454.20" stroke="#000" stroke-width="1.1"/>
<line x1="329.30" y1="454.20" x2="340.30" y2="454.20" stroke="#000" stroke-width="1.1"/>
<rect x="324.30" y="456.01" width="21" height="12.99" fill="#0a0a0a"/>
<line x1="366.10" y1="403.01" x2="366.10" y2="400.71" stroke="#000" stroke-width="1.1"/>
<line x1="360.60" y1="400.71" x2="371.60" y2="400.71" stroke="#000" stroke-width="1.1"/>
<rect x="355.60" y="403.01" width="21" height="65.99" fill="#0a0a0a"/>
<line x1="397.50" y1="456.01" x2="397.50" y2="454.20" stroke="#000" stroke-width="1.1"/>
<line x1="392.00" y1="454.20" x2="403.00" y2="454.20" stroke="#000" stroke-width="1.1"/>
<rect x="387.00" y="456.01" width="21" height="12.99" fill="#0a0a0a"/>
<line x1="288.00" y1="386.00" x2="288.00" y2="469.70" stroke="#000" stroke-width="1.5"/>
<line x1="287.30" y1="469.00" x2="413.00" y2="469.00" stroke="#000" stroke-width="1.5"/>
<line x1="284.80" y1="469.00" x2="288.00" y2="469.00" stroke="#000" stroke-width="1.2"/>
<text x="284.70" y="471.10" font-size="5.8" font-weight="bold" text-anchor="end" fill="#000">0</text>
<line x1="284.80" y1="452.52" x2="288.00" y2="452.52" stroke="#000" stroke-width="1.2"/>
<text x="284.70" y="454.62" font-size="5.8" font-weight="bold" text-anchor="end" fill="#000">500</text>
<line x1="284.80" y1="436.04" x2="288.00" y2="436.04" stroke="#000" stroke-width="1.2"/>
<text x="284.70" y="438.14" font-size="5.8" font-weight="bold" text-anchor="end" fill="#000">1000</text>
<line x1="284.80" y1="419.56" x2="288.00" y2="419.56" stroke="#000" stroke-width="1.2"/>
<text x="284.70" y="421.66" font-size="5.8" font-weight="bold" text-anchor="end" fill="#000">1500</text>
<line x1="284.80" y1="403.08" x2="288.00" y2="403.08" stroke="#000" stroke-width="1.2"/>
<text x="284.70" y="405.18" font-size="5.8" font-weight="bold" text-anchor="end" fill="#000">2000</text>
<line x1="284.80" y1="386.60" x2="288.00" y2="386.60" stroke="#000" stroke-width="1.2"/>
<text x="284.70" y="388.70" font-size="5.8" font-weight="bold" text-anchor="end" fill="#000">2500</text>
<text x="304.00" y="477.40" font-size="6.25" font-weight="bold" text-anchor="middle" fill="#000">Medium</text>
<text x="335.30" y="477.40" font-size="6.25" font-weight="bold" text-anchor="middle" fill="#000">hP67.6</text>
<text x="366.60" y="477.40" font-size="6.25" font-weight="bold" text-anchor="middle" fill="#000">BC8</text>
<text x="405.00" y="477.40" font-size="6.25" font-weight="bold" text-anchor="middle" fill="#000">hP67.6+BC8</text>
<text class="big" x="265.30" y="428.00" font-size="9.6" font-weight="bold" text-anchor="middle" fill="#000" transform="rotate(-90 265.30 428.00)" textLength="98" lengthAdjust="spacingAndGlyphs">CD33 Expression (AFU)</text>
<text x="293.00" y="397.30" font-size="7.6" font-weight="bold" text-anchor="start" fill="#000">ML-1</text>
<text class="big" x="429.20" y="461.70" font-size="8.2"  text-anchor="start" fill="#000" stroke="#000" stroke-width="0.15">n=3</text>
<line x1="303.50" y1="533.41" x2="303.50" y2="530.42" stroke="#000" stroke-width="1.1"/>
<line x1="298.00" y1="530.42" x2="309.00" y2="530.42" stroke="#000" stroke-width="1.1"/>
<rect x="293.00" y="533.41" width="21" height="62.99" fill="#0a0a0a"/>
<line x1="334.80" y1="576.00" x2="334.80" y2="574.34" stroke="#000" stroke-width="1.1"/>
<line x1="329.30" y1="574.34" x2="340.30" y2="574.34" stroke="#000" stroke-width="1.1"/>
<rect x="324.30" y="576.00" width="21" height="20.40" fill="#0a0a0a"/>
<line x1="366.10" y1="534.00" x2="366.10" y2="531.35" stroke="#000" stroke-width="1.1"/>
<line x1="360.60" y1="531.35" x2="371.60" y2="531.35" stroke="#000" stroke-width="1.1"/>
<rect x="355.60" y="534.00" width="21" height="62.40" fill="#0a0a0a"/>
<line x1="397.50" y1="576.99" x2="397.50" y2="576.00" stroke="#000" stroke-width="1.1"/>
<line x1="392.00" y1="576.00" x2="403.00" y2="576.00" stroke="#000" stroke-width="1.1"/>
<rect x="387.00" y="576.99" width="21" height="19.41" fill="#0a0a0a"/>
<line x1="288.00" y1="513.00" x2="288.00" y2="597.10" stroke="#000" stroke-width="1.5"/>
<line x1="287.30" y1="596.40" x2="413.00" y2="596.40" stroke="#000" stroke-width="1.5"/>
<line x1="284.80" y1="596.40" x2="288.00" y2="596.40" stroke="#000" stroke-width="1.2"/>
<text x="284.70" y="598.50" font-size="5.8" font-weight="bold" text-anchor="end" fill="#000">0</text>
<line x1="284.80" y1="579.84" x2="288.00" y2="579.84" stroke="#000" stroke-width="1.2"/>
<text x="284.70" y="581.94" font-size="5.8" font-weight="bold" text-anchor="end" fill="#000">500</text>
<line x1="284.80" y1="563.28" x2="288.00" y2="563.28" stroke="#000" stroke-width="1.2"/>
<text x="284.70" y="565.38" font-size="5.8" font-weight="bold" text-anchor="end" fill="#000">1000</text>
<line x1="284.80" y1="546.72" x2="288.00" y2="546.72" stroke="#000" stroke-width="1.2"/>
<text x="284.70" y="548.82" font-size="5.8" font-weight="bold" text-anchor="end" fill="#000">1500</text>
<line x1="284.80" y1="530.16" x2="288.00" y2="530.16" stroke="#000" stroke-width="1.2"/>
<text x="284.70" y="532.26" font-size="5.8" font-weight="bold" text-anchor="end" fill="#000">2000</text>
<line x1="284.80" y1="513.60" x2="288.00" y2="513.60" stroke="#000" stroke-width="1.2"/>
<text x="284.70" y="515.70" font-size="5.8" font-weight="bold" text-anchor="end" fill="#000">2500</text>
<text x="304.00" y="605.00" font-size="6.25" font-weight="bold" text-anchor="middle" fill="#000">Medium</text>
<text x="335.30" y="605.00" font-size="6.25" font-weight="bold" text-anchor="middle" fill="#000">hP67.6</text>
<text x="366.60" y="605.00" font-size="6.25" font-weight="bold" text-anchor="middle" fill="#000">BC8</text>
<text x="405.00" y="605.00" font-size="6.25" font-weight="bold" text-anchor="middle" fill="#000">hP67.6+BC8</text>
<text class="big" x="265.30" y="555.00" font-size="9.6" font-weight="bold" text-anchor="middle" fill="#000" transform="rotate(-90 265.30 555.00)" textLength="98" lengthAdjust="spacingAndGlyphs">CD33 Expression (AFU)</text>
<text x="293.00" y="525.50" font-size="7.6" font-weight="bold" text-anchor="start" fill="#000">HL-60</text>
<text class="big" x="429.20" y="588.70" font-size="8.2"  text-anchor="start" fill="#000" stroke="#000" stroke-width="0.15">n=3</text>
</svg>
</body></html>
